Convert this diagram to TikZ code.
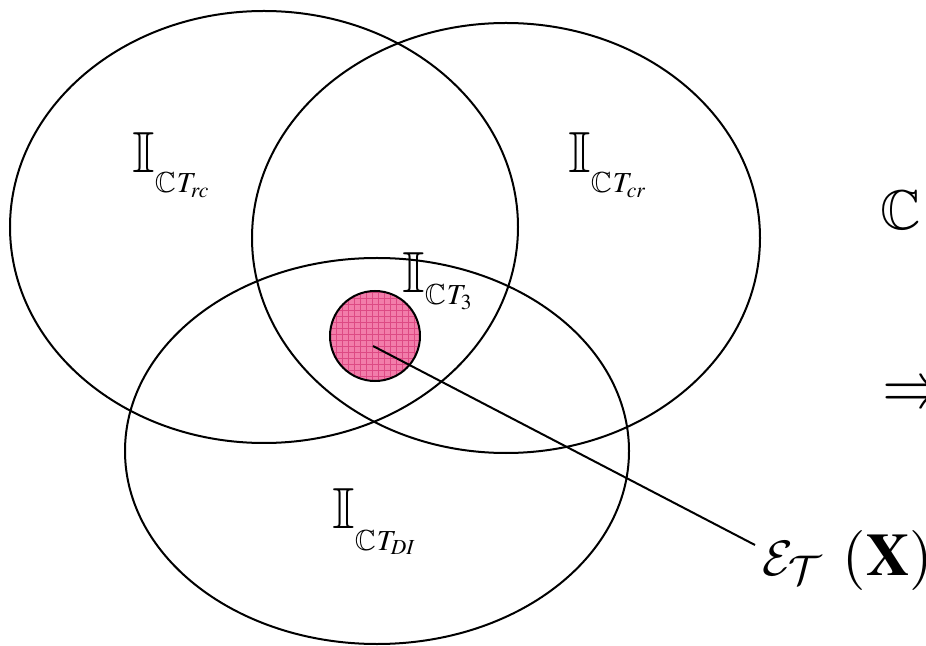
\documentclass[tikz,border=0pt]{standalone}
\usepackage{amsmath}
\usepackage{mathptmx}
\usepackage{amssymb}
\DeclareMathAlphabet{\mathcal}{OMS}{cmsy}{m}{n}
\usepackage{tikz}
\usetikzlibrary{patterns}
\definecolor{rosa}{HTML}{F27DAA}
\definecolor{rosaosc}{HTML}{DD4A84}
\newcommand\idx[2][10pt]{{\fontsize{29}{34}\selectfont$\mathbb{I}$}\raisebox{-#1}{\fontsize{14.5}{17}\selectfont$\mathbb{C}\kern0.5pt T_{#2}$}}

\begin{document}
\begin{tikzpicture}[x=0.5pt,y=-0.5pt,
  conj/.style={draw,line width=1pt},
  etiq/.style={anchor=base west,inner sep=0pt},
  grande/.style={etiq,font=\fontsize{30}{36}\selectfont}]
\useasboundingbox (0,0) rectangle (926,646);
\draw[conj] (264,227) ellipse [x radius=127pt,y radius=108pt];
\draw[conj] (506,238) ellipse [x radius=127pt,y radius=107.5pt];
\draw[conj] (377,451) ellipse [x radius=126pt,y radius=96.5pt];
\node[circle,draw,line width=1pt,minimum size=45pt,inner sep=0pt,preaction={fill=rosa},pattern=grid,pattern color=rosaosc] (t3) at (375,336) {};
\node[etiq] (rc) at (132,173) {\idx{rc}};
\node[etiq] (cr) at (568,173) {\idx{cr}};
\node[etiq] (tres) at (402,293) {\idx[6pt]{3}};
\node[etiq] (di) at (332,528) {\idx[11pt]{DI}};
\node[etiq,font=\fontsize{28}{34}\selectfont] (cc) at (880,230) {$\mathbb{C}$};
\node[etiq,font=\fontsize{32}{38}\selectfont] (imp) at (882,408) {$\Rightarrow$};
\node[grande] (ex) at (762,575) {$\mathcal{E}_{\mathcal{T}}\hspace{10pt}(\mathbf{X})$};
\coordinate (p) at (373,346);
\coordinate (q) at (755,545);
\draw[line width=1pt] (p) -- (q);
\end{tikzpicture}
\end{document}
